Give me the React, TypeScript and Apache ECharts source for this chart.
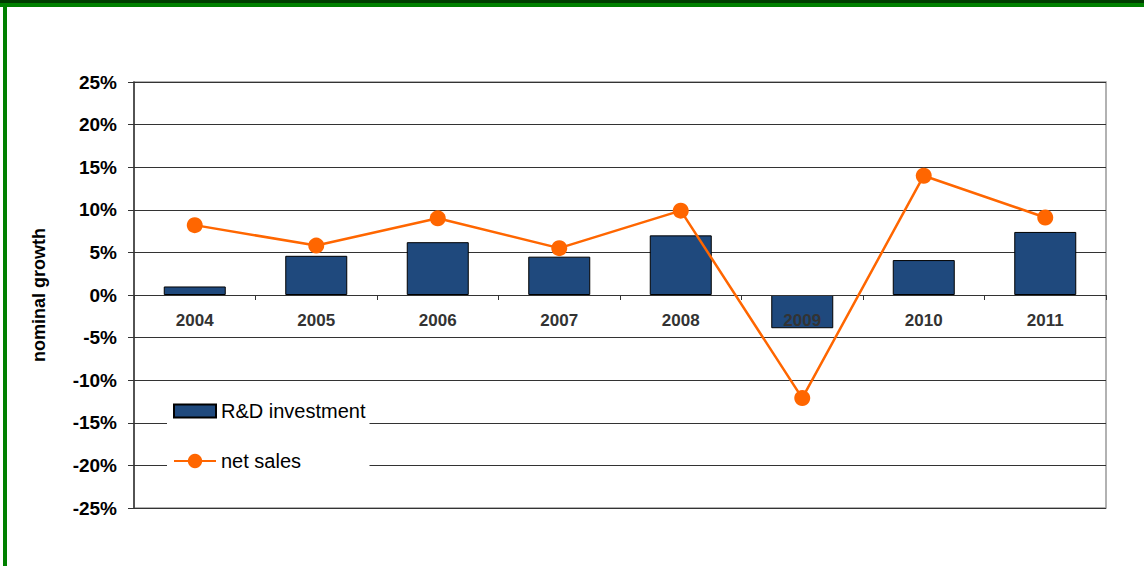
import React, { useEffect, useRef } from "react";
import * as echarts from "echarts";

const years = ["2004", "2005", "2006", "2007", "2008", "2009", "2010", "2011"];
const rdInvestment = [1.0, 4.6, 6.2, 4.5, 7.0, -3.9, 4.1, 7.4];
const netSales = [8.2, 5.8, 9.0, 5.5, 9.9, -12.1, 14.0, 9.1];
const yMin = -25;
const yMax = 25;
const yStep = 5;

export default function App() {
  const ref = useRef<HTMLDivElement>(null);
  useEffect(() => {
    if (!ref.current) return;
    const chart = echarts.init(ref.current, undefined, { renderer: "svg" });
    const font = "Liberation Sans, Arial, sans-serif";
    chart.setOption({
      animation: false,
      backgroundColor: "#fff",
      textStyle: { fontFamily: font },
      graphic: [
        { type: "rect", shape: { x: 0, y: 0, width: 1144, height: 3 }, style: { fill: "#003c00" }, silent: true },
        { type: "rect", shape: { x: 0, y: 3, width: 1144, height: 4 }, style: { fill: "#008000" }, silent: true },
        { type: "rect", shape: { x: 3, y: 3, width: 4, height: 563 }, style: { fill: "#008000" }, silent: true },
      ],
      grid: {
        left: 134,
        right: 38,
        top: 82,
        bottom: 58,
        show: true,
        borderColor: "#999",
        borderWidth: 1.5,
        backgroundColor: "#fff",
      },
      legend: {
        data: [
          { name: "R&D investment", icon: "path://M0,0 M0,2.5 L42,2.5 L42,15.5 L0,15.5 Z M42,18" },
          { name: "net sales" },
        ],
        orient: "vertical",
        left: 167,
        top: 395,
        backgroundColor: "#fff",
        padding: [6, 4, 10, 6],
        itemWidth: 42,
        itemHeight: 18,
        itemGap: 30,
        textStyle: { fontSize: 20, color: "#000", fontFamily: font },
      },
      xAxis: {
        type: "category",
        data: years,
        z: 3,
        position: "bottom",
        offset: -213,
        axisLine: { onZero: false, lineStyle: { color: "#333", width: 1 } },
        axisTick: { show: true, length: 5, lineStyle: { color: "#333" } },
        axisLabel: { fontSize: 17, fontWeight: "bold", color: "#333", margin: 17, fontFamily: font },
        splitLine: { show: false },
      },
      yAxis: {
        type: "value",
        min: yMin,
        max: yMax,
        interval: yStep,
        name: "nominal growth",
        nameLocation: "middle",
        nameRotate: 90,
        nameGap: 86,
        nameTextStyle: { fontSize: 18, fontWeight: "bold", color: "#000", fontFamily: font },
        axisLine: { show: true, lineStyle: { color: "#333", width: 1.5 } },
        axisTick: { show: true, length: 6, lineStyle: { color: "#333" } },
        axisLabel: { formatter: "{value}%", fontSize: 19, fontWeight: "bold", color: "#000", margin: 17, fontFamily: font },
        splitLine: { show: true, lineStyle: { color: "#333", width: 1 } },
      },
      series: [
        {
          name: "R&D investment",
          type: "bar",
          data: rdInvestment,
          barWidth: 62,
          itemStyle: { color: "#1F497D", borderColor: "#000", borderWidth: 1 },
        },
        {
          name: "net sales",
          type: "line",
          data: netSales,
          symbol: "circle",
          symbolSize: 16,
          z: 4,
          lineStyle: { color: "#FF6600", width: 2.5 },
          itemStyle: { color: "#FF6600" },
        },
      ],
    });
    return () => chart.dispose();
  }, []);
  return (
    <div
      ref={ref}
      style={{ position: "fixed", left: 0, top: 0, width: 1144, height: 566 }}
    />
  );
}
